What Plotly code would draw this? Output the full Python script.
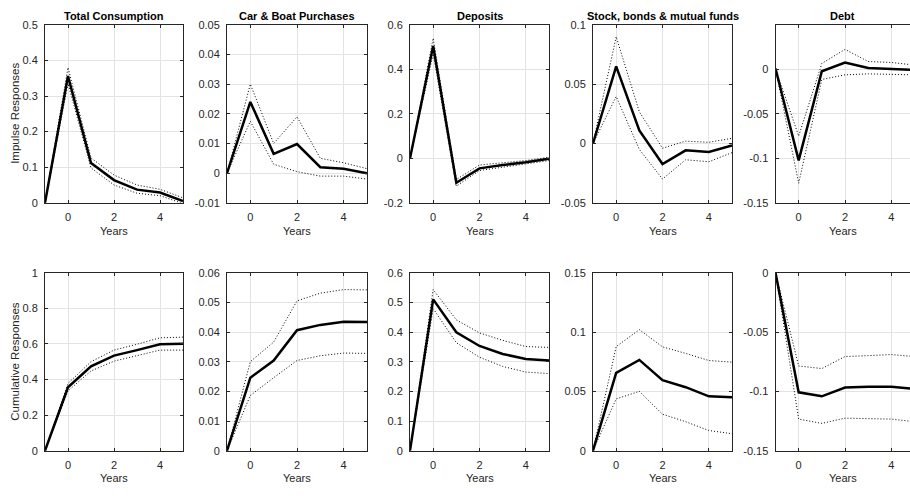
import plotly.graph_objects as go

# ---------------- data ----------------
years = [-1, 0, 1, 2, 3, 4, 5]
titles = ["Total Consumption", "Car & Boat Purchases", "Deposits",
          "Stock, bonds & mutual funds", "Debt"]
row_titles = ["Impulse Responses", "Cumulative Responses"]

# Impulse responses (point estimate, upper band, lower band)
irf_cons = [0, 0.356, 0.112, 0.064, 0.037, 0.029, 0.005]
irf_cons_hi = [0, 0.380, 0.126, 0.078, 0.050, 0.038, 0.014]
irf_cons_lo = [0, 0.335, 0.098, 0.050, 0.027, 0.020, -0.002]

irf_car = [0, 0.024, 0.0065, 0.0098, 0.002, 0.0015, 0.0]
irf_car_hi = [0, 0.030, 0.010, 0.019, 0.005, 0.0035, 0.0015]
irf_car_lo = [0, 0.0175, 0.003, 0.0005, -0.001, -0.001, -0.002]

irf_dep = [0, 0.505, -0.110, -0.045, -0.030, -0.018, -0.002]
irf_dep_hi = [0, 0.540, -0.095, -0.030, -0.020, -0.010, 0.005]
irf_dep_lo = [0, 0.470, -0.125, -0.055, -0.040, -0.025, -0.010]

irf_stk = [0, 0.065, 0.011, -0.0173, -0.0058, -0.0071, -0.0016]
irf_stk_hi = [0, 0.090, 0.0267, -0.004, 0.002, 0.001, 0.0044]
irf_stk_lo = [0, 0.0396, -0.005, -0.030, -0.0137, -0.0154, -0.0077]

irf_debt = [0.001, -0.1023, -0.0022, 0.0077, 0.0015, 0.0007, -0.0007]
irf_debt_hi = [0.001, -0.075, 0.0066, 0.0224, 0.0088, 0.0077, 0.0048]
irf_debt_lo = [0.001, -0.128, -0.0114, -0.0062, -0.0051, -0.0055, -0.0062]

# Cumulative responses
cum_cons = [0, 0.356, 0.4735, 0.534, 0.565, 0.598, 0.601]
cum_cons_hi = [0, 0.378, 0.500, 0.565, 0.598, 0.634, 0.638]
cum_cons_lo = [0, 0.336, 0.448, 0.503, 0.534, 0.565, 0.565]

cum_car = [0, 0.0246, 0.0304, 0.0406, 0.0424, 0.0435, 0.0434]
cum_car_hi = [0, 0.030, 0.0366, 0.0505, 0.0531, 0.0543, 0.0542]
cum_car_lo = [0, 0.0186, 0.0246, 0.0304, 0.032, 0.0329, 0.0328]

cum_dep = [0, 0.510, 0.399, 0.353, 0.326, 0.309, 0.304]
cum_dep_hi = [0, 0.543, 0.441, 0.397, 0.372, 0.351, 0.348]
cum_dep_lo = [0, 0.479, 0.364, 0.315, 0.284, 0.265, 0.260]

cum_stk = [0, 0.0655, 0.0765, 0.0595, 0.0535, 0.0458, 0.045]
cum_stk_hi = [0, 0.0877, 0.102, 0.0875, 0.082, 0.076, 0.0746]
cum_stk_lo = [0, 0.0436, 0.050, 0.0307, 0.0244, 0.017, 0.0143]

cum_debt = [0, -0.1008, -0.1042, -0.0968, -0.0962, -0.0962, -0.098]
cum_debt_hi = [0, -0.0786, -0.0808, -0.0707, -0.0699, -0.069, -0.0707]
cum_debt_lo = [0, -0.1234, -0.127, -0.1226, -0.123, -0.1234, -0.1256]

# y tick values / labels per panel
yt_cons_irf = [0, 0.1, 0.2, 0.3, 0.4, 0.5]
yl_cons_irf = ["0", "0.1", "0.2", "0.3", "0.4", "0.5"]
yt_car_irf = [-0.01, 0, 0.01, 0.02, 0.03, 0.04, 0.05]
yl_car_irf = ["-0.01", "0", "0.01", "0.02", "0.03", "0.04", "0.05"]
yt_dep_irf = [-0.2, 0, 0.2, 0.4, 0.6]
yl_dep_irf = ["-0.2", "0", "0.2", "0.4", "0.6"]
yt_stk_irf = [-0.05, 0, 0.05, 0.1]
yl_stk_irf = ["-0.05", "0", "0.05", "0.1"]
yt_debt_irf = [-0.15, -0.1, -0.05, 0]
yl_debt_irf = ["-0.15", "-0.1", "-0.05", "0"]

yt_cons_cum = [0, 0.2, 0.4, 0.6, 0.8, 1]
yl_cons_cum = ["0", "0.2", "0.4", "0.6", "0.8", "1"]
yt_car_cum = [0, 0.01, 0.02, 0.03, 0.04, 0.05, 0.06]
yl_car_cum = ["0", "0.01", "0.02", "0.03", "0.04", "0.05", "0.06"]
yt_dep_cum = [0, 0.1, 0.2, 0.3, 0.4, 0.5, 0.6]
yl_dep_cum = ["0", "0.1", "0.2", "0.3", "0.4", "0.5", "0.6"]
yt_stk_cum = [0, 0.05, 0.1, 0.15]
yl_stk_cum = ["0", "0.05", "0.1", "0.15"]
yt_debt_cum = [-0.15, -0.1, -0.05, 0]
yl_debt_cum = ["-0.15", "-0.1", "-0.05", "0"]

x_ticks = [0, 2, 4]
x_labels = ["0", "2", "4"]

panels = [
    (irf_cons, irf_cons_hi, irf_cons_lo, [0, 0.5], yt_cons_irf, yl_cons_irf),
    (irf_car, irf_car_hi, irf_car_lo, [-0.01, 0.05], yt_car_irf, yl_car_irf),
    (irf_dep, irf_dep_hi, irf_dep_lo, [-0.2, 0.6], yt_dep_irf, yl_dep_irf),
    (irf_stk, irf_stk_hi, irf_stk_lo, [-0.05, 0.1], yt_stk_irf, yl_stk_irf),
    (irf_debt, irf_debt_hi, irf_debt_lo, [-0.15, 0.05], yt_debt_irf, yl_debt_irf),
    (cum_cons, cum_cons_hi, cum_cons_lo, [0, 1], yt_cons_cum, yl_cons_cum),
    (cum_car, cum_car_hi, cum_car_lo, [0, 0.06], yt_car_cum, yl_car_cum),
    (cum_dep, cum_dep_hi, cum_dep_lo, [0, 0.6], yt_dep_cum, yl_dep_cum),
    (cum_stk, cum_stk_hi, cum_stk_lo, [0, 0.15], yt_stk_cum, yl_stk_cum),
    (cum_debt, cum_debt_hi, cum_debt_lo, [-0.15, 0], yt_debt_cum, yl_debt_cum),
]

# ---------------- layout ----------------
W, H = 910, 496
FONT = "Liberation Sans, Arial, Helvetica, sans-serif"
TXT = "#262626"
AX = "#262626"
GRID = "#e3e3e3"
PX_PER_YEAR = 23.17

col_px = [(45, 183), (227, 367), (410, 549), (593, 732), (775.5, 910)]
row_px = [(19.3, 201.7), (273.3, 455.7)]

fig = go.Figure()
annotations = []

for i, (main, hi, lo, yr, ytv, ytl) in enumerate(panels):
    r, c = divmod(i, 5)
    n = i + 1
    xn = "x" if n == 1 else f"x{n}"
    yn = "y" if n == 1 else f"y{n}"
    xk = "xaxis" if n == 1 else f"xaxis{n}"
    yk = "yaxis" if n == 1 else f"yaxis{n}"
    x0, x1 = col_px[c]
    t0, t1 = row_px[r]
    xmax = -1 + (x1 - x0) / PX_PER_YEAR if c == 4 else 5

    for band in (hi, lo):
        fig.add_trace(go.Scatter(x=years, y=band, mode="lines", xaxis=xn, yaxis=yn,
                                 line=dict(color="black", width=1, dash="1px,2px"),
                                 showlegend=False, hoverinfo="skip"))
    fig.add_trace(go.Scatter(x=years, y=main, mode="lines", xaxis=xn, yaxis=yn,
                             line=dict(color="black", width=2.5),
                             showlegend=False))

    fig.layout[xk] = dict(
        domain=[x0 / W, x1 / W], anchor=yn, range=[-1, xmax],
        tickvals=x_ticks, ticktext=x_labels,
        showgrid=True, gridcolor=GRID, gridwidth=1, zeroline=False,
        showline=True, linecolor=AX, linewidth=1, mirror="ticks",
        ticks="inside", ticklen=3, tickcolor=AX,
        tickfont=dict(family=FONT, size=11, color=TXT), ticklabelstandoff=4,
    )
    fig.layout[yk] = dict(
        domain=[1 - t1 / H, 1 - t0 / H], anchor=xn, range=yr,
        tickvals=ytv, ticktext=ytl,
        showgrid=True, gridcolor=GRID, gridwidth=1, zeroline=False,
        showline=True, linecolor=AX, linewidth=1,
        mirror=False if c == 4 else "ticks",
        ticks="inside", ticklen=3, tickcolor=AX,
        tickfont=dict(family=FONT, size=11, color=TXT), ticklabelstandoff=4,
    )

    cx = (x0 + min(x1, x0 + 6 * PX_PER_YEAR)) / 2 / W
    annotations.append(dict(text="Years", xref="paper", yref="paper",
                            x=cx, y=1 - (t1 + 28.5) / H, xanchor="center", yanchor="middle",
                            showarrow=False, font=dict(family=FONT, size=11, color=TXT)))
    if r == 0:
        annotations.append(dict(text=f"<b>{titles[c]}</b>", xref="paper", yref="paper",
                                x=cx, y=1 - 10 / H, xanchor="center", yanchor="middle",
                                showarrow=False, font=dict(family=FONT, size=11, color="black")))

for r in range(2):
    t0, t1 = row_px[r]
    annotations.append(dict(text=row_titles[r], xref="paper", yref="paper",
                            x=15 / W, y=1 - (t0 + t1) / 2 / H, textangle=-90,
                            xanchor="center", yanchor="middle", showarrow=False,
                            font=dict(family=FONT, size=11.5, color=TXT)))

fig.update_layout(width=W, height=H, margin=dict(l=0, r=0, t=0, b=0),
                  paper_bgcolor="white", plot_bgcolor="white",
                  annotations=annotations, showlegend=False)

fig.write_html("out.html",
               config={"displayModeBar": False, "staticPlot": True},
               post_script="document.body.style.margin='0';"
                           "document.body.style.padding='0';"
                           "document.body.style.overflow='hidden';"
                           "document.documentElement.style.overflow='hidden';")
